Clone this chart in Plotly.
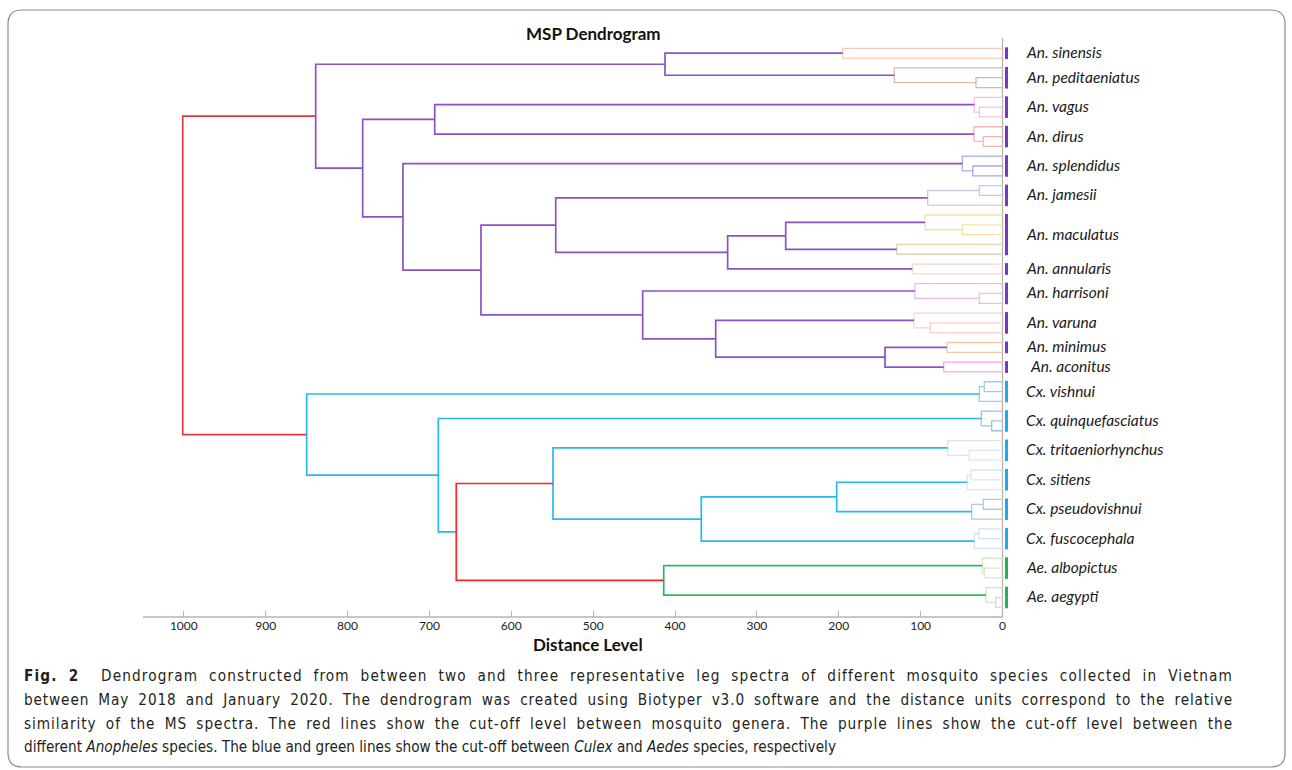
import plotly.graph_objects as go

# ---------------- data ----------------
species = ["An. sinensis", "An. peditaeniatus", "An. vagus", "An. dirus", "An. splendidus",
           "An. jamesii", "An. maculatus", "An. annularis", "An. harrisoni", "An. varuna",
           "An. minimus", "An. aconitus", "Cx. vishnui", "Cx. quinquefasciatus",
           "Cx. tritaeniorhynchus", "Cx. sitiens", "Cx. pseudovishnui", "Cx. fuscocephala",
           "Ae. albopictus", "Ae. aegypti"]
genus = ["An"] * 12 + ["Cx"] * 6 + ["Ae"] * 2
spectra_per_species = [2, 3, 3, 3, 3, 3, 5, 2, 3, 3, 2, 2, 3, 3, 3, 3, 3, 3, 3, 3]

# linkage: node ids 0..57 are spectra (top to bottom), merge k creates node 58+k
merge_a = [0, 3, 2, 6, 5, 9, 8, 12, 11, 14, 67, 18, 17, 20, 70, 22, 72, 68, 25, 24,
           28, 27, 30, 32, 80, 79, 77, 75, 66, 62, 87, 58, 89,
           34, 91, 38, 37, 41, 40, 43, 97, 46, 99, 49, 101, 98, 103, 96,
           53, 52, 56, 55, 107, 105, 94, 92, 90]
merge_b = [1, 4, 59, 7, 61, 10, 63, 13, 65, 15, 16, 19, 69, 21, 71, 23, 73, 74, 26, 76,
           29, 78, 31, 33, 81, 82, 83, 84, 85, 64, 86, 60, 88,
           35, 36, 39, 93, 42, 95, 44, 45, 47, 48, 50, 51, 100, 102, 104,
           54, 106, 57, 108, 109, 110, 111, 112, 113]
merge_dist = [195.2, 32.4, 132.2, 28.3, 34.4, 23.5, 34.8, 36.4, 49.1, 28.3, 91.4, 49.1, 94.5,
              129.2, 264.8, 110.2, 335.7, 545.7, 28.3, 106.9, 88.2, 108.1, 67.8, 71.8, 143.5,
              350.3, 439.5, 637.0, 732.3, 693.5, 781.5, 412.2, 838.9,
              22.2, 28.3, 13.2, 25.9, 40.6, 66.9, 38.8, 43.0, 23.5, 37.6, 28.7, 34.4, 202.5,
              367.9, 549.0, 22.2, 24.7, 8.3, 20.2, 413.8, 667.2, 689.1, 849.9, 1001.3]
# which group each merge belongs to
merge_group = ["sinensis", "pedit", "pedit", "vagus", "vagus", "dirus", "dirus", "splend", "splend",
               "jamesii", "jamesii", "macA", "macA", "macB", "An", "annul", "An", "An",
               "harris", "harris", "varuna", "varuna", "minimus", "aconitus", "An", "An", "An",
               "An", "An", "An", "An", "An", "An",
               "vishnui", "vishnui", "quinq", "quinq", "trit", "trit", "sitiens", "sitiens",
               "pseudo", "pseudo", "fusco", "fusco", "Cx", "Cx", "Cx",
               "albo", "albo", "aeg", "aeg", "Ae", "red2", "Cx", "Cx", "red"]

x_ticks = list(range(0, 1001, 100))

caption = [
    "<b>Fig. 2</b>&nbsp;&nbsp;Dendrogram constructed from between two and three representative leg spectra of different mosquito species collected in Vietnam",
    "between May 2018 and January 2020. The dendrogram was created using Biotyper v3.0 software and the distance units correspond to the relative",
    "similarity of the MS spectra. The red lines show the cut-off level between mosquito genera. The purple lines show the cut-off level between the",
    "different <i>Anopheles</i> species. The blue and green lines show the cut-off between <i>Culex</i> and <i>Aedes</i> species, respectively",
]

# ---------------- style ----------------
group_color = {
    "sinensis": "#F8C9B8", "pedit": "#D9B8A8", "vagus": "#F4BFEC", "dirus": "#F7B4B4",
    "splend": "#A9A9F4", "jamesii": "#CEC8DE", "macA": "#FAE0A6", "macB": "#DDD3BA",
    "annul": "#FBD6C6", "harris": "#F5B8E6", "varuna": "#FAD0D0", "minimus": "#F8C7A6",
    "aconitus": "#F0A8EC", "vishnui": "#A6CBE0", "quinq": "#9EC0DE", "trit": "#DCE6F2",
    "sitiens": "#DDE5F0", "pseudo": "#B2C9E2", "fusco": "#D6E2F0", "albo": "#D5EAC6",
    "aeg": "#CDE6C5",
    "An": "#8A52C4", "Cx": "#27B9F0", "Ae": "#2DBA5C", "red": "#DD3A40", "red2": "#FF2222",
}
major_groups = {"An", "Cx", "Ae", "red", "red2"}
bar_color = {"An": "#7B35C2", "Cx": "#18ACEE", "Ae": "#1DB552"}

# pixel calibration of reference: x px = 1002.5 - 0.8187*d ; y px = 48.3 + 9.807*i
L, R, T, B = 143, 0, 30, 130
W, H = 1292, 770
PW, PH = W - L - R, H - T - B
X0PX, XSCALE = 1002.5, 0.8187
Y0PX, YSCALE = 48.3, 9.807


def px2d(px):
    return (X0PX - px) / XSCALE


def py2i(py):
    return (py - Y0PX) / YSCALE


def pxp(px):  # pixel -> paper x
    return (px - L) / PW


def pyp(py):  # pixel -> paper y
    return (H - B - py) / PH


# ---------------- build dendrogram ----------------
n_leaves = sum(spectra_per_species)
pos = {i: (0.0, float(i)) for i in range(n_leaves)}
segs = {}
for k, (a, b, d, g) in enumerate(zip(merge_a, merge_b, merge_dist, merge_group)):
    xa, ya = pos[a]
    xb, yb = pos[b]
    sx, sy = segs.setdefault(g, ([], []))
    sx += [xa, d, d, xb, None]
    sy += [ya, ya, yb, yb, None]
    pos[n_leaves + k] = (d, (ya + yb) / 2)

fig = go.Figure()

# baseline and zero line
fig.add_trace(go.Scatter(x=[px2d(L), 0], y=[py2i(617), py2i(617)], mode="lines",
                         line=dict(color="#B4B4B4", width=1.5), showlegend=False))
fig.add_trace(go.Scatter(x=[0, 0], y=[py2i(38), py2i(617)], mode="lines",
                         line=dict(color="#B4B4B4", width=1.3), showlegend=False))

for g, (sx, sy) in segs.items():
    if g in major_groups:
        continue
    fig.add_trace(go.Scatter(x=sx, y=sy, mode="lines",
                             line=dict(color=group_color[g], width=1.3), showlegend=False))
for g in ["An", "Cx", "Ae", "red", "red2"]:
    sx, sy = segs[g]
    fig.add_trace(go.Scatter(x=sx, y=sy, mode="lines",
                             line=dict(color=group_color[g], width=1.7), showlegend=False))

# species bars and labels
annotations = []
start = 0
bar_x = px2d(1006.5)
label_x = px2d(1023.5)
for name, n, gen in zip(species, spectra_per_species, genus):
    first, last = start, start + n - 1
    fig.add_trace(go.Scatter(x=[bar_x, bar_x], y=[first - 0.1, last + 0.1], mode="lines",
                             line=dict(color=bar_color[gen], width=3), showlegend=False))
    annotations.append(dict(x=label_x, y=(first + last) / 2, xref="x", yref="y",
                            text="<i>" + name + "</i>", showarrow=False, xanchor="left",
                            yanchor="middle", yshift=1,
                            xshift=4 if name == "An. aconitus" else 0,
                            font=dict(family="Lato", size=15.5, color="#1a1a1a")))
    start += n

# titles
annotations.append(dict(x=pxp(593), y=pyp(33), xref="paper", yref="paper",
                        text="<b>MSP Dendrogram</b>", showarrow=False,
                        xanchor="center", yanchor="middle",
                        font=dict(family="Lato", size=17, color="#111")))
annotations.append(dict(x=pxp(588), y=pyp(645), xref="paper", yref="paper",
                        text="<b>Distance Level</b>", showarrow=False,
                        xanchor="center", yanchor="middle",
                        font=dict(family="Lato", size=17, color="#111")))

for j, line in enumerate(caption):
    annotations.append(dict(x=pxp(22), y=pyp(676 + 23.8 * j), xref="paper", yref="paper",
                            text=line, showarrow=False, xanchor="left", yanchor="middle",
                            align="left",
                            font=dict(family="DejaVu Sans Condensed, sans-serif",
                                      size=15.2, color="#231F20")))

# rounded border
x0, x1, y0, y1, r = 8, 1285, 10, 767, 14


def P(px, py):
    return f"{pxp(px):.5f},{pyp(py):.5f}"


border = (f"M {P(x0 + r, y0)} L {P(x1 - r, y0)} Q {P(x1, y0)} {P(x1, y0 + r)} "
          f"L {P(x1, y1 - r)} Q {P(x1, y1)} {P(x1 - r, y1)} L {P(x0 + r, y1)} "
          f"Q {P(x0, y1)} {P(x0, y1 - r)} L {P(x0, y0 + r)} Q {P(x0, y0)} {P(x0 + r, y0)} Z")

fig.update_layout(
    width=W, height=H,
    margin=dict(l=L, r=R, t=T, b=B, pad=0),
    paper_bgcolor="white", plot_bgcolor="white",
    hovermode=False, showlegend=False,
    annotations=annotations,
    shapes=[dict(type="path", path=border, xref="paper", yref="paper",
                 line=dict(color="#8C8C8C", width=1.2), layer="below")],
    xaxis=dict(range=[px2d(L), px2d(W - R)], tickvals=x_ticks,
               ticktext=[str(v) for v in x_ticks],
               ticks="inside", ticklen=6, tickwidth=1.2, tickcolor="#B4B4B4",
               showline=False, showgrid=False, zeroline=False,
               anchor="free", position=pyp(617),
               tickfont=dict(family="Lato", size=12, color="#222")),
    yaxis=dict(range=[py2i(H - B), py2i(T)], visible=False),
)

# remove default page margin and justify the first three caption lines (as in the figure)
post = """
document.body.style.margin='0';
document.body.style.padding='0';
var targets={'Fig. 2':1209,'between May':1209,'similarity of':1209};
var els=document.querySelectorAll('text.annotation-text');
for(var i=0;i<els.length;i++){
  var t=els[i]; var s=t.textContent;
  for(var k in targets){
    if(s.indexOf(k)===0){
      var n=(s.match(/[ \\u00a0]/g)||[]).length;
      var w=t.getComputedTextLength();
      var extra=targets[k]-w;
      if(n>0 && extra>0){
        t.style.letterSpacing=(0.6*extra/s.length)+'px';
        var w2=t.getComputedTextLength();
        var rest=targets[k]-w2;
        if(rest>0){ t.style.wordSpacing=(rest/n)+'px'; }
      }
    }
  }
}
"""
fig.write_html("out.html", post_script=post, config={"displayModeBar": False})
